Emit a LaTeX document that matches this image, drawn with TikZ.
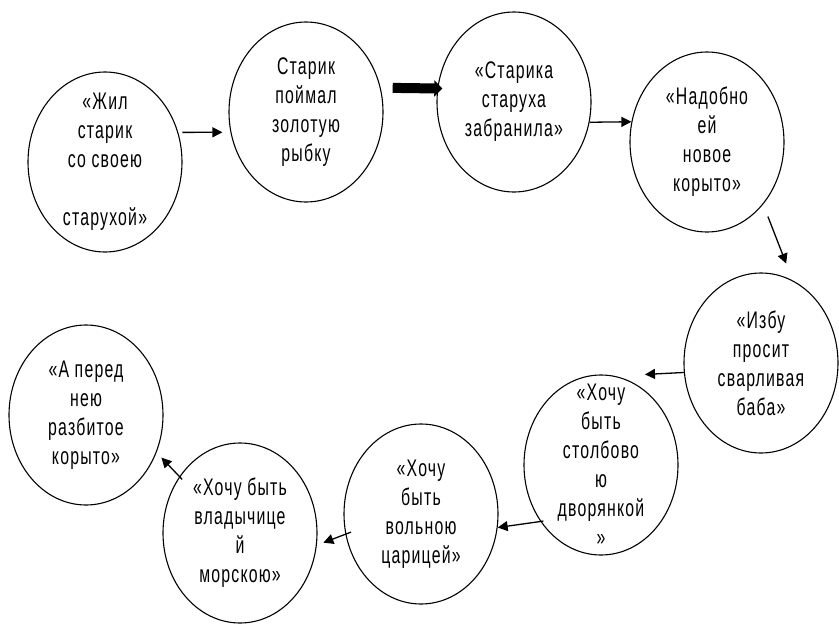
\documentclass[tikz,border=0pt]{standalone}
\usepackage{fontspec}
\setmainfont{Liberation Sans}[FakeStretch=0.66, LetterSpace=5]
\usetikzlibrary{arrows.meta, shapes.geometric}

\begin{document}
\begin{tikzpicture}[x=1pt, y=-1pt,
    stage/.style={draw, line width=1.1pt, ellipse, inner sep=0pt, minimum width=154pt, minimum height=180pt},
    words/.style={align=center, font=\fontsize{24}{29}\selectfont},
    link/.style={line width=1.3pt, -{Triangle[length=10pt, width=10pt]}},
    boldlink/.style={line width=10pt, -{Triangle[length=8pt, width=16pt]}}]
    \fill[white] (0,0) rectangle (839,624);
    \useasboundingbox (0,0) rectangle (839,624);

    % Circles
    \node[stage] (zhil) at (105,162) {};
    \node[stage] (rybka) at (306,112) {};
    \node[stage] (bran) at (514,102) {};
    \node[stage] (koryto) at (707,142) {};
    \node[stage] (izba) at (761,363) {};
    \node[stage] (dvor) at (601,465) {};
    \node[stage] (tsar) at (421,514) {};
    \node[stage] (more) at (240,533) {};
    \node[stage] (konets) at (86,415) {};

    % Texts
    \node[words] (zhiltxt) at (zhil) {«Жил\\старик\\со своею\\[29pt]старухой»};
    \node[words] (rybkatxt) at (rybka) {Старик\\поймал\\золотую\\рыбку};
    \node[words] (brantxt) at (bran) {«Старика\\старуха\\забранила»};
    \node[words] (korytotxt) at (koryto) {«Надобно\\ей\\новое\\корыто»};
    \node[words] (izbatxt) at (izba) {«Избу\\просит\\сварливая\\баба»};
    \node[words] (dvortxt) at (dvor) {«Хочу\\быть\\столбово\\ю\\дворянкой\\»};
    \node[words] (tsartxt) at (tsar) {«Хочу\\быть\\вольною\\царицей»};
    \node[words] (moretxt) at (more) {«Хочу быть\\владычице\\й\\морскою»};
    \node[words] (konetstxt) at (konets) {«А перед\\нею\\разбитое\\корыто»};

    % Arrows
    \draw[link, shorten <=4pt, shorten >=8pt] (zhil.22) -- (rybka.195);
    \draw[boldlink, shorten <=12pt, shorten >=-5pt] (rybka.18) -- (bran.170);
    \draw[link] (bran.345) -- (koryto.165);
    \draw[link, shorten <=13pt, shorten >=18pt] (koryto.312) -- (izba.69);
    \draw[link] (izba.187) -- ([xshift=44pt]dvor.north);
    \draw[link, shorten <=-3pt] (dvor.223) -- (tsar.350);
    \draw[link, shorten <=-6pt, shorten >=7pt] (tsar.195) -- (more.351);
    \draw[link, shorten <=-4pt, shorten >=7pt] (more.137) -- (konets.332);
\end{tikzpicture}
\end{document}
